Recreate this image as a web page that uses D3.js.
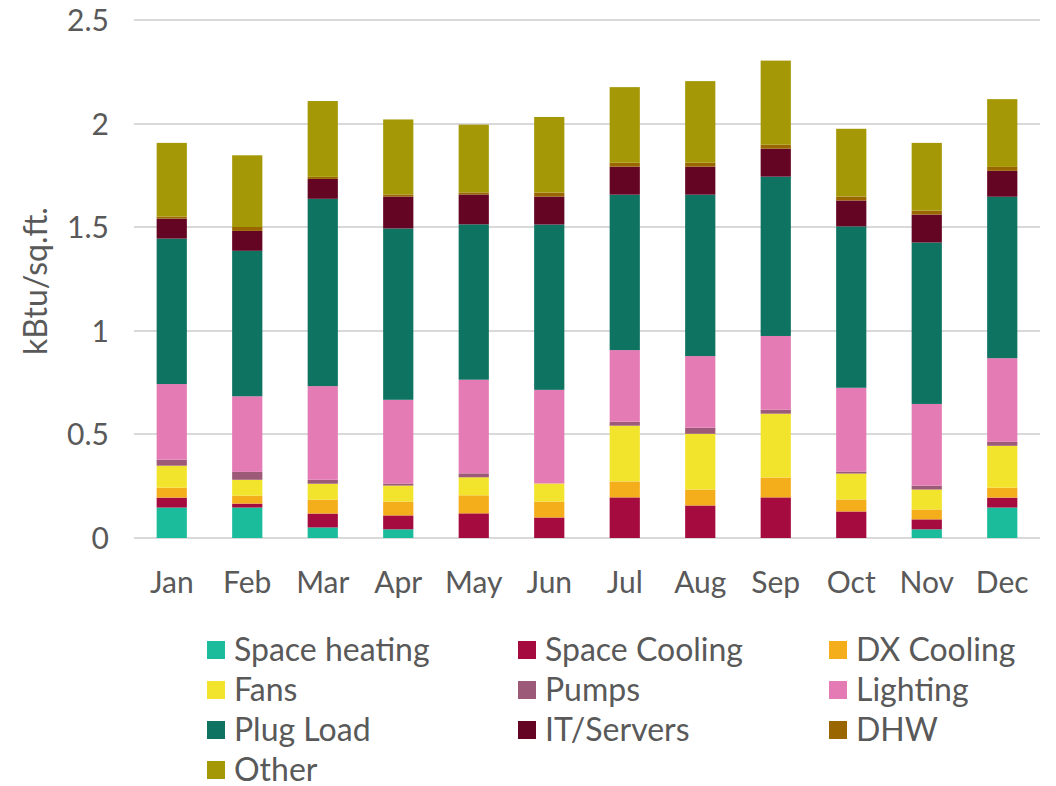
<!DOCTYPE html>
<html>
<head>
<meta charset="utf-8">
<script src="https://cdn.jsdelivr.net/npm/d3@7"></script>
<style>
  body { margin: 0; background: #fff; }
  text { font-family: Lato, "Open Sans", sans-serif; fill: #595959; }
</style>
</head>
<body>
<svg id="chart" width="1056" height="786"></svg>
<script>
var months = ["Jan","Feb","Mar","Apr","May","Jun","Jul","Aug","Sep","Oct","Nov","Dec"];
var seriesNames = ["Space heating","Space Cooling","DX Cooling","Fans","Pumps","Lighting","Plug Load","IT/Servers","DHW","Other"];
var seriesColors = ["#1abc9c","#a50b3e","#f5ae1b","#f2e42c","#9c5a78","#e57bb4","#0f7361","#650524","#996600","#a59806"];

var spaceHeating = [0.147,0.147,0.051,0.042,0,0,0,0,0,0,0.042,0.147];
var spaceCooling = [0.048,0.019,0.067,0.067,0.119,0.099,0.196,0.157,0.196,0.128,0.048,0.048];
var dxCooling    = [0.048,0.038,0.067,0.067,0.087,0.077,0.077,0.077,0.096,0.058,0.048,0.048];
var fans         = [0.106,0.077,0.077,0.077,0.087,0.087,0.269,0.269,0.308,0.125,0.096,0.202];
var pumps        = [0.029,0.038,0.019,0.010,0.019,0,0.019,0.029,0.019,0.010,0.019,0.019];
var lighting     = [0.365,0.365,0.452,0.404,0.452,0.452,0.346,0.346,0.356,0.404,0.394,0.404];
var plugLoad     = [0.702,0.702,0.904,0.827,0.750,0.798,0.750,0.779,0.769,0.779,0.779,0.779];
var itServers    = [0.096,0.096,0.096,0.154,0.144,0.135,0.135,0.135,0.135,0.125,0.135,0.125];
var dhw          = [0.010,0.019,0.010,0.010,0.010,0.019,0.019,0.019,0.019,0.019,0.019,0.019];
var other        = [0.356,0.346,0.366,0.362,0.327,0.365,0.365,0.394,0.406,0.327,0.327,0.327];
var yTicks = [0,0.5,1,1.5,2,2.5];

var seriesValues = [spaceHeating,spaceCooling,dxCooling,fans,pumps,lighting,plugLoad,itServers,dhw,other];

// one row per month for d3.stack
var rows = months.map(function(m, i){
  var r = {month: m};
  seriesNames.forEach(function(s, k){ r[s] = seriesValues[k][i]; });
  return r;
});

var svg = d3.select("#chart");
var plotLeft = 134, plotRight = 1040, plotTop = 20, plotBottom = 538;

var x = d3.scaleBand().domain(months).range([plotLeft, plotRight]).paddingInner(0.6).paddingOuter(0.3);
var y = d3.scaleLinear().domain([0, 2.5]).range([plotBottom, plotTop]);

// gridlines
svg.append("g")
  .selectAll("line")
  .data(yTicks)
  .enter()
    .append("line")
    .attr("x1", plotLeft)
    .attr("x2", plotRight)
    .attr("y1", function(d){ return Math.round(y(d)); })
    .attr("y2", function(d){ return Math.round(y(d)); })
    .attr("stroke", "#d9d9d9")
    .attr("stroke-width", 2);

var stack = d3.stack().keys(seriesNames);
var layers = stack(rows);

svg.append("g")
  .selectAll("g")
  .data(layers)
  .enter()
    .append("g")
    .attr("fill", function(d, i){ return seriesColors[i]; })
  .selectAll("rect")
  .data(function(d){ return d; })
  .enter()
    .append("rect")
    .attr("x", function(d){ return x(d.data.month); })
    .attr("width", x.bandwidth())
    .attr("y", function(d){ return y(d[1]); })
    .attr("height", function(d){ return y(d[0]) - y(d[1]); });

// y axis labels
var yAxis = svg.append("g")
  .attr("transform", "translate(" + (plotLeft - 25) + ",0)")
  .call(d3.axisLeft(y).tickValues(yTicks).tickSize(0).tickPadding(0).tickFormat(d3.format("")));
yAxis.select(".domain").remove();
yAxis.selectAll("text").attr("font-size", 30).attr("font-family", null).attr("fill", "#595959").attr("dy", "0.35em");

// x axis labels
var xAxis = svg.append("g")
  .attr("transform", "translate(0," + plotBottom + ")")
  .call(d3.axisBottom(x).tickSize(0).tickPadding(34));
xAxis.select(".domain").remove();
xAxis.selectAll("text").attr("font-size", 30).attr("font-family", null).attr("fill", "#595959");

svg.append("text")
  .attr("transform", "translate(47,281) rotate(-90)")
  .attr("text-anchor", "middle")
  .attr("font-size", 32)
  .text("kBtu/sq.ft.");

// legend
var legend = svg.append("g")
  .selectAll("g")
  .data(seriesNames)
  .enter()
    .append("g")
    .attr("transform", function(d, i){
      return "translate(" + [207, 518, 829][i % 3] + "," + (641 + Math.floor(i / 3) * 40) + ")";
    });

legend.append("rect")
  .attr("width", 18)
  .attr("height", 18)
  .attr("fill", function(d, i){ return seriesColors[i]; });

legend.append("text")
  .attr("x", 27)
  .attr("y", 9)
  .attr("dy", "0.35em")
  .attr("font-size", 32)
  .text(function(d){ return d; });
</script>
</body>
</html>
